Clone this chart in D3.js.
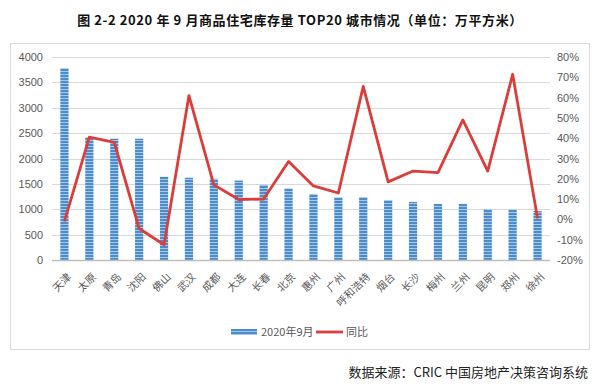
<!DOCTYPE html>
<html>
<head>
<meta charset="utf-8">
<script src="https://cdn.jsdelivr.net/npm/d3@7"></script>
<style>
  body { margin: 0; background: #fff; font-family: "Noto Sans CJK SC", "Noto Sans", sans-serif; }
  svg text { fill: #595959; }
</style>
</head>
<body>
<div id="chart"></div>
<script>
var cities = ["天津","太原","青岛","沈阳","佛山","武汉","成都","大连","长春","北京",
              "惠州","广州","呼和浩特","烟台","长沙","梅州","兰州","昆明","郑州","徐州"]
var stock = [3780, 2420, 2390, 2390, 1640, 1620, 1600, 1565, 1480, 1410,
             1300, 1235, 1240, 1180, 1145, 1105, 1105, 1005, 995, 965]
var yoy = [-1, 40.5, 38, -4.5, -12.5, 61, 17, 9.8, 10, 28.5,
           16.5, 13, 65.5, 18.5, 23.8, 23, 49, 23.8, 71.5, 0.5]
var leftTicks = [0, 500, 1000, 1500, 2000, 2500, 3000, 3500, 4000]
var rightTicks = [-20, -10, 0, 10, 20, 30, 40, 50, 60, 70, 80]

var width = 600, height = 390
var plot = { left: 52, right: 550, top: 57, bottom: 260 }

var svg = d3.select('#chart').append('svg')
  .attr('width', width)
  .attr('height', height)

// striped fill for the bars
var pat = svg.append('defs').append('pattern')
  .attr('id', 'stripes')
  .attr('patternUnits', 'userSpaceOnUse')
  .attr('width', 4).attr('height', 3)
pat.append('rect').attr('width', 4).attr('height', 3).attr('fill', '#a6c9ea')
pat.append('rect').attr('width', 4).attr('height', 2).attr('fill', '#4c8cca')

// title
svg.append('text')
  .attr('x', 300).attr('y', 25)
  .attr('text-anchor', 'middle')
  .style('font-size', '13px')
  .style('font-weight', 'bold')
  .style('letter-spacing', '0.6px')
  .style('fill', '#111')
  .text('图 2-2 2020 年 9 月商品住宅库存量 TOP20 城市情况（单位：万平方米）')

// chart frame
svg.append('rect')
  .attr('x', 10.5).attr('y', 43.5)
  .attr('width', 579).attr('height', 306)
  .attr('fill', 'none')
  .attr('stroke', '#d9d9d9')

var x = d3.scaleBand()
  .domain(cities)
  .range([plot.left, plot.right])
  .paddingInner(0.67)
  .paddingOuter(0.335)

var y = d3.scaleLinear().domain([0, 4000]).range([plot.bottom, plot.top])
var y2 = d3.scaleLinear().domain([-20, 80]).range([plot.bottom, plot.top])

// gridlines
svg.append('g')
  .selectAll('line')
  .data(leftTicks.slice(1))
  .join('line')
  .attr('x1', plot.left).attr('x2', plot.right)
  .attr('y1', function (d) { return Math.round(y(d)) + 0.5 })
  .attr('y2', function (d) { return Math.round(y(d)) + 0.5 })
  .attr('stroke', '#d9d9d9')

// left axis
var leftAxis = svg.append('g')
  .attr('transform', 'translate(' + plot.left + ',0)')
  .call(d3.axisLeft(y).tickValues(leftTicks).tickSize(0).tickPadding(9).tickFormat(d3.format('d')))
leftAxis.select('.domain').remove()
leftAxis.selectAll('text').style('font-size', '11px').style('font-family', 'Liberation Sans, Arial, sans-serif')

// right axis
var rightAxis = svg.append('g')
  .attr('transform', 'translate(' + plot.right + ',0)')
  .call(d3.axisRight(y2).tickValues(rightTicks).tickSize(0).tickPadding(7)
    .tickFormat(function (d) { return d + '%' }))
rightAxis.select('.domain').remove()
rightAxis.selectAll('text').style('font-size', '11px').style('font-family', 'Liberation Sans, Arial, sans-serif')

// bars
svg.append('g')
  .selectAll('rect')
  .data(stock)
  .join('rect')
  .attr('x', function (d, i) { return x(cities[i]) })
  .attr('y', function (d) { return y(d) })
  .attr('width', x.bandwidth())
  .attr('height', function (d) { return y(0) - y(d) })
  .attr('fill', 'url(#stripes)')

// baseline
svg.append('line')
  .attr('x1', plot.left).attr('x2', plot.right)
  .attr('y1', plot.bottom + 0.5).attr('y2', plot.bottom + 0.5)
  .attr('stroke', '#bfbfbf')
  .attr('stroke-width', 1.5)

// category labels, slanted 45 degrees, ending under each tick
svg.append('g')
  .selectAll('text')
  .data(cities)
  .join('text')
  .attr('transform', function (d) {
    return 'translate(' + (x(d) + x.bandwidth() / 2 + 2) + ',' + (plot.bottom + 12) + ') rotate(-45)'
  })
  .attr('text-anchor', 'end')
  .attr('dy', '0.75em')
  .style('font-size', '10.5px')
  .text(function (d) { return d })

// yoy line
var line = d3.line()
  .x(function (d, i) { return x(cities[i]) + x.bandwidth() / 2 })
  .y(function (d) { return y2(d) })

svg.append('path')
  .datum(yoy)
  .attr('d', line)
  .attr('fill', 'none')
  .attr('stroke', '#dc3d3b')
  .attr('stroke-width', 2.8)
  .attr('stroke-linejoin', 'round')

// legend
var lg = svg.append('g').attr('transform', 'translate(231,332)')
lg.append('rect').attr('x', 0).attr('y', -3).attr('width', 26).attr('height', 6).attr('fill', 'url(#stripes)')
lg.append('text').attr('x', 30).attr('y', 0).attr('dy', '0.35em').style('font-size', '11px').text('2020年9月')
lg.append('line').attr('x1', 85).attr('x2', 112).attr('y1', 0).attr('y2', 0)
  .attr('stroke', '#dc3d3b').attr('stroke-width', 2.8)
lg.append('text').attr('x', 115).attr('y', 0).attr('dy', '0.35em').style('font-size', '11px').text('同比')

// source note
svg.append('text')
  .attr('x', 588).attr('y', 377)
  .attr('text-anchor', 'end')
  .style('font-size', '13px')
  .style('fill', '#222')
  .text('数据来源：CRIC 中国房地产决策咨询系统')
</script>
</body>
</html>
